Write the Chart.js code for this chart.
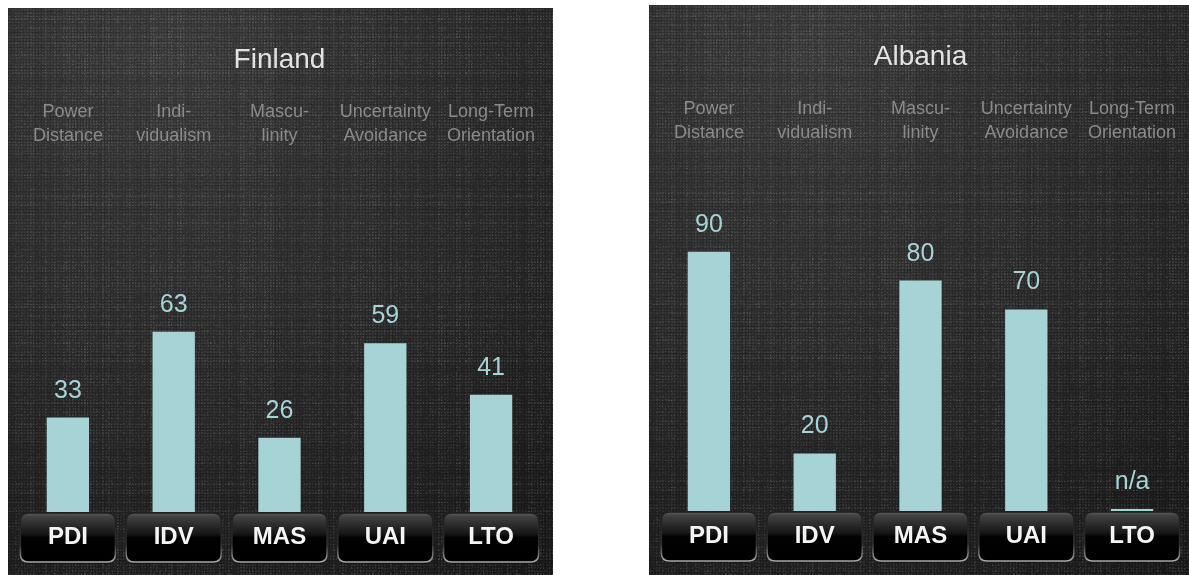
<!DOCTYPE html>
<html>
<head>
<meta charset="utf-8">
<script src="https://cdn.jsdelivr.net/npm/chart.js@4/dist/chart.umd.min.js"></script>
<style>
  html, body { margin: 0; padding: 0; background: #fff; overflow: hidden; width: 1189px; height: 575px; }
  canvas { position: absolute; display: block; }
  #cFin { left: 8px; top: 8px; }
  #cAlb { left: 649px; top: 5px; }
</style>
</head>
<body>
<canvas id="cFin" width="545" height="568"></canvas>
<canvas id="cAlb" width="545" height="571"></canvas>
<script>
// Hofstede dimension scores per country
const dimensionCodes = ['PDI', 'IDV', 'MAS', 'UAI', 'LTO'];
const dimensionNames = [
  ['Power', 'Distance'],
  ['Indi-', 'vidualism'],
  ['Mascu-', 'linity'],
  ['Uncertainty', 'Avoidance'],
  ['Long-Term', 'Orientation']
];
const finlandScores = [33, 63, 26, 59, 41];
const albaniaScores = [90, 20, 80, 70, null];   // null = no score available
const scoreMax = 100;

const FONT = "'Liberation Sans', Arial, Helvetica, sans-serif";
const BAR_COLOR = 'rgb(166, 211, 213)';

// Deterministic hash in [0, 1) used for the fabric grain
function grain(a, b) {
  const s = Math.sin(a * 12.9898 + b * 78.233) * 43758.5453;
  return s - Math.floor(s);
}

// Linen-like tile: woven threads with faint streaky rows and columns
function makeLinenTile() {
  const size = 288;
  const c = document.createElement('canvas');
  c.width = size; c.height = size;
  const g = c.getContext('2d');
  const img = g.createImageData(size, size);
  for (let y = 0; y < size; y++) {
    for (let x = 0; x < size; x++) {
      const rowStreak = grain(0.37, Math.floor(y / 2) + 11) - 0.5;
      const colStreak = grain(Math.floor(x / 2) + 5, 0.71) - 0.5;
      const px = grain(x, y) - 0.5;
      const weave = ((x % 3 === 0) ? -0.45 : 0) + ((y % 3 === 0) ? -0.45 : 0) + ((x % 3 === 1 && y % 3 === 2) ? 0.3 : 0);
      const d = weave * 0.22 + rowStreak * 0.08 + colStreak * 0.08 + px * 0.16;
      const i = (y * size + x) * 4;
      const v = d < 0 ? 0 : 255;
      img.data[i] = v; img.data[i + 1] = v; img.data[i + 2] = v;
      img.data[i + 3] = Math.round(Math.min(1, Math.abs(d)) * 255);
    }
  }
  g.putImageData(img, 0, 0);
  return c;
}
const linenTile = makeLinenTile();

function roundRectPath(ctx, x, y, w, h, r) {
  ctx.beginPath();
  ctx.moveTo(x + r, y);
  ctx.lineTo(x + w - r, y);
  ctx.quadraticCurveTo(x + w, y, x + w, y + r);
  ctx.lineTo(x + w, y + h - r);
  ctx.quadraticCurveTo(x + w, y + h, x + w - r, y + h);
  ctx.lineTo(x + r, y + h);
  ctx.quadraticCurveTo(x, y + h, x, y + h - r);
  ctx.lineTo(x, y + r);
  ctx.quadraticCurveTo(x, y, x + r, y);
  ctx.closePath();
}

// Panel background plus the glossy black buttons behind the code labels
const panelBackground = {
  id: 'panelBackground',
  beforeDraw(chart) {
    const { ctx, width, height, chartArea, scales } = chart;
    ctx.save();
    const grad = ctx.createRadialGradient(width * 0.3, height * 0.08, 10, width * 0.3, height * 0.08, Math.hypot(width, height) * 0.95);
    grad.addColorStop(0, '#3e3e3e');
    grad.addColorStop(0.5, '#2a2a2a');
    grad.addColorStop(1, '#121212');
    ctx.fillStyle = grad;
    ctx.fillRect(0, 0, width, height);
    ctx.fillStyle = ctx.createPattern(linenTile, 'repeat');
    ctx.fillRect(0, 0, width, height);

    const x = scales.x;
    const bw = 95, bh = 49, r = 8;
    const top = chartArea.bottom + 1;
    for (let i = 0; i < x.ticks.length; i++) {
      const cx = x.getPixelForTick(i);
      const left = cx - bw / 2;
      // soft shadow under the bottom edge
      roundRectPath(ctx, left, top + 1.5, bw, bh, r);
      ctx.fillStyle = 'rgba(0,0,0,0.55)';
      ctx.fill();
      roundRectPath(ctx, left, top, bw, bh, r);
      const fill = ctx.createLinearGradient(0, top, 0, top + bh);
      fill.addColorStop(0, '#5c5c5c');
      fill.addColorStop(0.08, '#404040');
      fill.addColorStop(0.44, '#141414');
      fill.addColorStop(0.5, '#020202');
      fill.addColorStop(1, '#000000');
      ctx.fillStyle = fill;
      ctx.fill();
      const edge = ctx.createLinearGradient(0, top, 0, top + bh);
      edge.addColorStop(0, 'rgba(30,30,30,1)');
      edge.addColorStop(0.65, 'rgba(45,45,45,1)');
      edge.addColorStop(1, 'rgba(170,170,170,1)');
      ctx.strokeStyle = edge;
      ctx.lineWidth = 1.5;
      ctx.stroke();
    }
    ctx.restore();
  }
};

// Score text above every bar
const scoreLabels = {
  id: 'scoreLabels',
  afterDatasetsDraw(chart) {
    const { ctx } = chart;
    const source = chart.options.plugins.scoreLabels.source;
    const meta = chart.getDatasetMeta(0);
    ctx.save();
    ctx.fillStyle = BAR_COLOR;
    ctx.font = '25px ' + FONT;
    ctx.textAlign = 'center';
    ctx.textBaseline = 'alphabetic';
    meta.data.forEach((bar, i) => {
      const v = source[i];
      ctx.fillText(v == null ? 'n/a' : String(v), bar.x, bar.y - 20);
    });
    ctx.restore();
  }
};

function makePanel(canvasId, country, scores, bottomHeight) {
  return new Chart(document.getElementById(canvasId), {
    type: 'bar',
    data: {
      labels: dimensionCodes,
      datasets: [{
        data: scores.map(v => (v == null ? 0 : v)),
        backgroundColor: BAR_COLOR,
        borderWidth: 0,
        categoryPercentage: 1,
        barPercentage: 0.4,
        minBarLength: 2
      }]
    },
    options: {
      responsive: false,
      animation: false,
      devicePixelRatio: 1,
      layout: { padding: { left: 7, right: 9, top: 0, bottom: 0 } },
      plugins: {
        legend: { display: false },
        tooltip: { enabled: false },
        title: {
          display: true,
          text: country,
          color: '#e2e2e2',
          font: { family: FONT, size: 28, weight: 'normal', lineHeight: 1.2 },
          padding: { top: 35, bottom: 10 }
        },
        scoreLabels: { source: scores }
      },
      scales: {
        x: {
          type: 'category',
          position: 'bottom',
          grid: { display: false, drawTicks: false },
          border: { display: false },
          ticks: {
            color: '#f4f4f4',
            font: { family: FONT, size: 24, weight: 'bold', lineHeight: 1.2 },
            padding: 11,
            maxRotation: 0,
            autoSkip: false
          },
          afterFit(scale) {
            scale.height = bottomHeight;
            scale.paddingLeft = 0; scale.paddingRight = 0;
          }
        },
        xTop: {
          type: 'category',
          position: 'top',
          labels: dimensionNames,
          offset: true,
          grid: { display: false, drawTicks: false },
          border: { display: false },
          ticks: {
            color: '#8a8a8a',
            font: { family: FONT, size: 18, weight: 'normal', lineHeight: '24px' },
            padding: 78,
            maxRotation: 0,
            autoSkip: false
          },
          afterFit(scale) {
            scale.height = 139.4;
            scale.paddingLeft = 0; scale.paddingRight = 0;
          }
        },
        y: { display: false, min: 0, max: scoreMax }
      }
    },
    plugins: [panelBackground, scoreLabels]
  });
}

makePanel('cFin', 'Finland', finlandScores, 64);
makePanel('cAlb', 'Albania', albaniaScores, 65);
</script>
</body>
</html>
